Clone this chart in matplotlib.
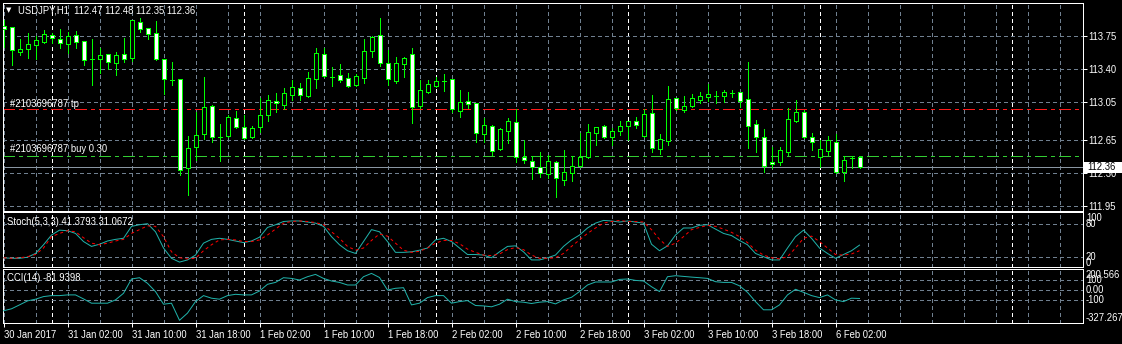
#!/usr/bin/env python3
import matplotlib
matplotlib.use('Agg')
import matplotlib.pyplot as plt
import matplotlib.transforms as mtransforms
from matplotlib.patches import Rectangle
import numpy as np

# ---- USDJPY H1 bars (30 Jan 18:00 .. 6 Feb 05:00) ----
opens = [113.856, 113.843, 113.584, 113.616, 113.652, 113.690, 113.758, 113.715, 113.662, 113.758,
         113.694, 113.510, 113.503, 113.556, 113.467, 113.556, 113.514, 113.902, 113.832, 113.779,
         113.510, 113.284, 113.291, 112.348, 112.577, 112.708, 113.008, 112.683, 112.694, 112.878,
         112.783, 112.677, 112.783, 112.913, 113.065, 113.019, 113.125, 113.196, 113.114, 113.291,
         113.556, 113.319, 113.334, 113.302, 113.231, 113.308, 113.595, 113.761, 113.461, 113.277,
         113.450, 113.556, 113.008, 113.160, 113.224, 113.277, 113.291, 112.959, 113.061, 113.037,
         112.708, 112.796, 112.550, 112.747, 112.842, 112.465, 112.428, 112.365, 112.288, 112.415,
         112.224, 112.295, 112.372, 112.465, 112.725, 112.799, 112.683, 112.746, 112.799, 112.853,
         112.690, 112.931, 112.550, 112.641, 113.090, 112.966, 113.008, 113.072, 113.101, 113.118,
         113.118, 113.149, 113.154, 113.079, 112.814, 112.683, 112.412, 112.418, 112.524, 112.853,
         112.948, 112.683, 112.465, 112.534, 112.630, 112.312, 112.460, 112.47]
highs = [113.920, 113.846, 113.715, 113.779, 113.750, 113.814, 113.779, 113.821, 113.790, 113.807,
         113.694, 113.715, 113.620, 113.556, 113.584, 113.726, 113.920, 113.938, 113.832, 113.913,
         113.510, 113.472, 113.291, 112.690, 112.948, 113.313, 113.022, 112.818, 112.913, 112.959,
         112.913, 112.796, 113.090, 113.125, 113.143, 113.196, 113.284, 113.249, 113.372, 113.620,
         113.620, 113.425, 113.454, 113.355, 113.348, 113.715, 113.750, 113.938, 113.602, 113.525,
         113.531, 113.620, 113.284, 113.284, 113.313, 113.348, 113.291, 113.178, 113.157, 113.043,
         112.881, 112.807, 112.772, 112.878, 112.973, 112.648, 112.478, 112.524, 112.489, 112.429,
         112.542, 112.478, 112.719, 112.818, 112.789, 112.807, 112.778, 112.849, 112.846, 112.895,
         112.973, 113.125, 112.712, 113.220, 113.090, 113.114, 113.136, 113.160, 113.242, 113.171,
         113.178, 113.178, 113.160, 113.478, 112.860, 112.762, 112.577, 112.577, 112.984, 113.072,
         112.966, 112.719, 112.648, 112.690, 112.712, 112.478, 112.478, 112.48]
lows = [113.634, 113.443, 113.549, 113.514, 113.507, 113.679, 113.673, 113.626, 113.573, 113.620,
        113.443, 113.231, 113.361, 113.397, 113.337, 113.478, 113.489, 113.796, 113.715, 113.496,
        113.132, 113.231, 112.277, 112.065, 112.436, 112.655, 112.630, 112.429, 112.683, 112.772,
        112.655, 112.666, 112.736, 112.853, 112.948, 112.973, 113.072, 113.072, 113.107, 113.196,
        113.319, 113.220, 113.266, 113.207, 113.220, 113.255, 113.531, 113.436, 113.231, 113.255,
        113.319, 112.831, 112.984, 113.149, 113.207, 113.171, 112.948, 112.895, 112.984, 112.630,
        112.630, 112.489, 112.542, 112.619, 112.418, 112.401, 112.232, 112.259, 112.242, 112.047,
        112.171, 112.217, 112.365, 112.454, 112.595, 112.666, 112.595, 112.701, 112.648, 112.772,
        112.683, 112.524, 112.500, 112.595, 112.966, 112.948, 112.995, 113.037, 113.065, 113.037,
        113.054, 113.107, 113.001, 112.560, 112.524, 112.312, 112.348, 112.383, 112.489, 112.842,
        112.666, 112.542, 112.365, 112.489, 112.295, 112.217, 112.348, 112.35]
closes = [113.825, 113.602, 113.609, 113.666, 113.708, 113.768, 113.726, 113.673, 113.750, 113.684,
          113.496, 113.510, 113.549, 113.472, 113.549, 113.503, 113.920, 113.821, 113.772, 113.503,
          113.295, 113.284, 112.337, 112.566, 112.701, 112.995, 112.683, 112.683, 112.889, 112.789,
          112.666, 112.772, 112.913, 113.072, 113.037, 113.143, 113.207, 113.125, 113.302, 113.567,
          113.326, 113.319, 113.284, 113.220, 113.326, 113.591, 113.737, 113.467, 113.291, 113.461,
          113.514, 113.001, 113.178, 113.238, 113.273, 113.277, 112.973, 113.048, 113.026, 112.719,
          112.807, 112.534, 112.762, 112.853, 112.471, 112.443, 112.359, 112.295, 112.422, 112.242,
          112.306, 112.378, 112.473, 112.736, 112.789, 112.677, 112.743, 112.796, 112.846, 112.804,
          112.920, 112.560, 112.656, 113.079, 112.984, 113.008, 113.090, 113.114, 113.136, 113.118,
          113.154, 113.149, 113.065, 112.799, 112.683, 112.376, 112.391, 112.542, 112.867, 112.942,
          112.683, 112.624, 112.550, 112.648, 112.306, 112.443, 112.460, 112.36]

# ---- indicators ----
stoch_main = [18, 17, 17, 19, 26, 42, 60, 69, 68, 63,
              48, 39, 43, 49, 52, 54, 76, 79, 81, 66,
              36, 17, 10, 14, 23, 45, 52, 54, 52, 49,
              46, 49, 56, 74, 79, 85, 86, 86, 84, 82,
              76, 57, 42, 31, 26, 48, 70, 66,
              48, 28, 28, 29, 32, 36, 51, 54, 48, 36,
              24, 24, 23, 18, 29, 39, 40, 29, 14, 14,
              18, 23, 39, 51, 60, 73, 82, 87, 86, 84,
              86, 84, 82, 43, 31, 40, 60, 73, 73, 78,
              79, 71, 63, 59, 50,
              42, 26, 20, 14, 14, 36, 57, 69, 54, 36, 26, 17, 24, 31, 41.38]
stoch_signal = [18, 17, 18, 20, 24, 36, 57, 63, 68, 66,
                55, 45, 42, 45, 49, 52, 63, 70, 77, 76,
                57, 29, 18, 16, 17, 31, 42, 51, 52, 51,
                48, 48, 51, 60, 71, 82, 85, 86, 85, 83,
                79, 66, 54, 39, 32, 36, 50, 62,
                58, 45, 32, 28, 30, 36, 45, 50, 50, 44,
                34, 28, 23, 22, 25, 33, 37, 33, 23, 17,
                17, 18, 26, 39, 51, 63, 73, 82, 85, 87,
                85, 85, 84, 70, 52, 39, 45, 57, 70, 74,
                78, 76, 71, 65, 57,
                46, 32, 23, 18, 16, 20, 36, 54, 58, 48, 36, 24, 23, 25, 31.07]
cci = [-205, -185, -146, -106, -89, -63, -53, -53, -46, -46,
       -86, -129, -129, -129, -96, -30, 113, 126, 70, -13,
       -139, -129, -300, -228, -113, -53, -79, -89, -53, -40,
       -46, -46, -7, 60, 79, 126, 119, 103, 136, 159,
       119, 93, 79, 53, 53, 136, 169, 128,
       3, 20, 26, -146, -129, -73, -53, -53, -129, -113,
       -103, -152, -156, -165, -139, -89, -113, -119, -132, -119,
       -113, -136, -96, -70, -13, 53, 83, 83, 83, 109,
       113, 99, 93, 36, -13, 136, 146, 139, 132, 126,
       119, 86, 79, 79, 45,
       -20, -113, -195, -195, -146, -46, 10, -20, -53, -73, -46, -96, -113, -79, -81.94]

time_label_bars = [0, 8, 16, 24, 32, 40, 48, 56, 64, 72, 80, 88, 96, 104]
time_labels = ['30 Jan 2017', '31 Jan 02:00', '31 Jan 10:00', '31 Jan 18:00', '1 Feb 02:00',
               '1 Feb 10:00', '1 Feb 18:00', '2 Feb 02:00', '2 Feb 10:00', '2 Feb 18:00',
               '3 Feb 02:00', '3 Feb 10:00', '3 Feb 18:00', '6 Feb 02:00']
day_start_bars = [6, 30, 54, 78, 102, 126]
price_ticks = [113.75, 113.40, 113.05, 112.65, 112.30, 111.95]
tp_price = 112.973
buy_price = 112.485
bid_price = 112.36
stoch_levels = [80, 20]
stoch_labels = [(100, '100', 'top'), (80, '80', 'center'), (20, '20', 'center'), (0, '0', 'bottom')]
cci_levels = [100, 0, -100]
cci_labels = [(200.566, '200.566', 'top'), (100, '100', 'center'), (0, '0.00', 'center'),
              (-100, '-100', 'center'), (-327.267, '-327.267', 'bottom')]

W, H = 1122, 344
FONT = 'Liberation Sans'
FS = 6.85
LIME = '#00FF00'
TEAL = '#20B2AA'
GRID = '#708090'
PX = 0.72  # one pixel in points
DOT = (0, (3, 3))

plt.rcParams['font.family'] = [FONT, 'DejaVu Sans']

fig = plt.figure(figsize=(W / 100, H / 100), dpi=100, facecolor='black')


def px_box(left, top, right, bottom):
    return [left / W, 1 - bottom / H, (right - left) / W, (bottom - top) / H]


def fig_text(x, y, s, size=FS, **kw):
    fig.text(x / W, 1 - y / H, s, va='center', ha='left', color='white', fontsize=size, **kw)


ax = fig.add_axes(px_box(2.5, 2.5, 1082.5, 210.7))
ax_st = fig.add_axes(px_box(2.5, 212.3, 1082.5, 266.7))
ax_cci = fig.add_axes(px_box(2.5, 269.3, 1082.5, 323.3))

for a in (ax, ax_st, ax_cci):
    a.set_facecolor('black')
    a.set_xlim(-0.125, 134.875)
    for s in a.spines.values():
        s.set_color('white')
        s.set_linewidth(PX)
    for i in range(0, 135, 4):
        a.axvline(i, color=GRID, lw=PX, ls=DOT, zorder=1, antialiased=False)
    for i in day_start_bars:
        a.axvline(i, color='white', lw=PX, ls=DOT, zorder=1, antialiased=False)
    a.tick_params(axis='x', bottom=False, labelbottom=False)
    a.tick_params(axis='y', left=False, labelleft=False)

# ---- main price panel ----
ax.set_ylim(111.901, 114.105)
for p in price_ticks:
    ax.axhline(p, color=GRID, lw=PX, ls=DOT, zorder=1, antialiased=False)

x = np.arange(len(opens))
o = np.array(opens)
c = np.array(closes)
body_lo = np.minimum(o, c)
body_h = np.maximum(np.abs(c - o), 0.001)
body_col = ['white' if cc < oo else 'black' for oo, cc in zip(o, c)]
ax.vlines(x, lows, highs, color=LIME, lw=PX, zorder=3, antialiased=False)
ax.bar(x, body_h, bottom=body_lo, width=0.5, color=body_col, edgecolor=LIME,
       linewidth=PX, zorder=4, antialiased=False)

ax.axhline(tp_price, color='#FF1A1A', lw=PX, ls=(0, (11, 5, 3, 5)), zorder=2, antialiased=False)
ax.axhline(buy_price, color='#32CD32', lw=PX, ls=(0, (11, 5, 3, 5)), zorder=2, antialiased=False)
ax.axhline(bid_price, color='#8A96A3', lw=PX, zorder=2, antialiased=False)

ax.yaxis.tick_right()
ax.set_yticks(price_ticks)
ax.set_yticklabels(['%.2f' % p for p in price_ticks])
ax.tick_params(axis='y', right=True, labelright=True, colors='white', labelsize=FS,
               length=3, width=PX, pad=1.5)

# current price tag
tr = mtransforms.blended_transform_factory(fig.transFigure, ax.transData)
tag_h = 0.113
ax.add_artist(Rectangle((1084 / W, bid_price - tag_h / 2), (W - 1084) / W, tag_h,
                        transform=tr, facecolor='white', edgecolor='none', clip_on=False, zorder=10))
ax.text(1087.5 / W, bid_price, '%.2f' % bid_price, transform=tr, color='black', fontsize=FS,
        va='center', ha='left', zorder=11, clip_on=False)

fig_text(6, 10.3, '\u25bc', size=5, family='DejaVu Sans')
fig_text(18, 10.3, 'USDJPY,H1  %.2f %.2f %.2f %.2f' % (opens[-1], highs[-1], lows[-1], closes[-1]))
fig_text(10, 104, '#2103696787 tp')
fig_text(10, 149.5, '#2103696787 buy 0.30')

# ---- stochastic panel ----
ax_st.set_ylim(1.5, 102)
for lv in stoch_levels:
    ax_st.axhline(lv, color=GRID, lw=PX, ls=DOT, zorder=1, antialiased=False)
ax_st.plot(x, stoch_main, color=TEAL, lw=PX, zorder=3)
ax_st.plot(x, stoch_signal, color='red', lw=PX, ls=DOT, zorder=3)
tr_st = mtransforms.blended_transform_factory(fig.transFigure, ax_st.transData)
for v, s, va in stoch_labels:
    ax_st.text(1086 / W, v, s, transform=tr_st, color='white', fontsize=FS, va=va,
               ha='left', clip_on=False)
fig_text(7, 221.7, 'Stoch(5,3,3) %.4f %.4f' % (41.3793, 31.0672))

# ---- CCI panel ----
ax_cci.set_ylim(-330, 210)
for lv in cci_levels:
    ax_cci.axhline(lv, color=GRID, lw=PX, ls=DOT, zorder=1, antialiased=False)
ax_cci.plot(x, cci, color=TEAL, lw=PX, zorder=3)
tr_cci = mtransforms.blended_transform_factory(fig.transFigure, ax_cci.transData)
for v, s, va in cci_labels:
    ax_cci.text(1086 / W, v, s, transform=tr_cci, color='white', fontsize=FS, va=va,
                ha='left', clip_on=False)
fig_text(7, 278.2, 'CCI(14) %.4f' % -81.9398)

ax_cci.set_xticks(time_label_bars)
ax_cci.set_xticklabels(time_labels, ha='left')
ax_cci.tick_params(axis='x', bottom=True, labelbottom=True, colors='white', labelsize=FS,
                   length=3, width=PX, pad=1.5)

fig.savefig('out.png', dpi=100, facecolor='black')
